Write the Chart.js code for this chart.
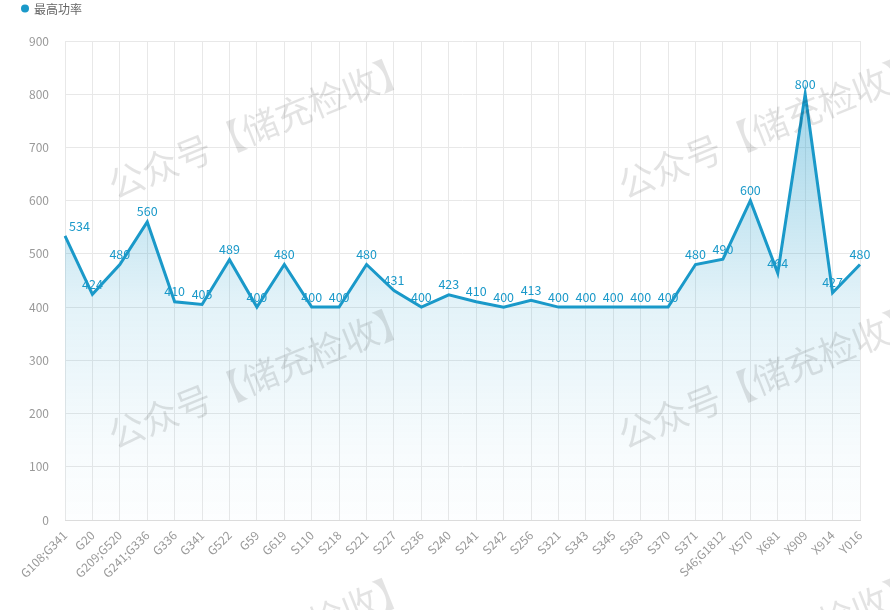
<!DOCTYPE html>
<html>
<head>
<meta charset="utf-8">
<script src="https://cdn.jsdelivr.net/npm/chart.js@4.4.1/dist/chart.umd.min.js"></script>
<style>
    body { margin: 0; background: #fff; }
    #wrap { width: 890px; height: 610px; position: relative; }
</style>
</head>
<body>
<div id="wrap"><canvas id="powerChart" width="890" height="610"></canvas></div>
<script>
// Data
const categories = ['G108;G341', 'G20', 'G209;G520', 'G241;G336', 'G336', 'G341', 'G522', 'G59', 'G619', 'S110',
    'S218', 'S221', 'S227', 'S236', 'S240', 'S241', 'S242', 'S256', 'S321', 'S343',
    'S345', 'S363', 'S370', 'S371', 'S46;G1812', 'X570', 'X681', 'X909', 'X914', 'Y016'];
const maxPower = [534, 424, 480, 560, 410, 405, 489, 400, 480, 400,
    400, 480, 431, 400, 423, 410, 400, 413, 400, 400,
    400, 400, 400, 480, 490, 600, 464, 800, 427, 480];
const yTicks = [0, 100, 200, 300, 400, 500, 600, 700, 800, 900];
const seriesName = '最高功率';
const watermark = '公众号【储充检收】';

const lineColor = '#1a99c9';
const fontFamily = '"Noto Sans CJK SC", "Noto Sans", sans-serif';

// simple legend in the top-left corner
const legendPlugin = {
    id: 'topLegend',
    afterDraw(chart) {
        const ctx = chart.ctx;
        ctx.save();
        ctx.fillStyle = lineColor;
        ctx.beginPath();
        ctx.arc(25, 8.5, 4, 0, Math.PI * 2);
        ctx.fill();
        ctx.font = '12px ' + fontFamily;
        ctx.fillStyle = '#666';
        ctx.textAlign = 'left';
        ctx.textBaseline = 'middle';
        ctx.fillText(seriesName, 34, 9);
        ctx.restore();
    }
};

// value labels above each point
const valueLabels = {
    id: 'valueLabels',
    beforeDatasetsDraw(chart) {
        const ctx = chart.ctx;
        const meta = chart.getDatasetMeta(0);
        ctx.save();
        ctx.font = '12.5px ' + fontFamily;
        ctx.fillStyle = lineColor;
        ctx.textBaseline = 'bottom';
        meta.data.forEach((pt, i) => {
            if (i === 0) {
                ctx.textAlign = 'left';
                ctx.fillText(maxPower[i], pt.x + 4, pt.y - 3);
            } else {
                ctx.textAlign = 'center';
                ctx.fillText(maxPower[i], pt.x, pt.y - 4);
            }
        });
        ctx.restore();
    }
};

// faint watermark text
const watermarkPlugin = {
    id: 'watermark',
    afterDraw(chart) {
        const ctx = chart.ctx;
        ctx.save();
        ctx.font = '36px ' + fontFamily;
        ctx.fillStyle = 'rgba(0, 0, 0, 0.11)';
        ctx.textAlign = 'center';
        ctx.textBaseline = 'middle';
        [[260, 126], [770, 126], [260, 376], [770, 376], [260, 645], [770, 645]].forEach(p => {
            ctx.save();
            ctx.translate(p[0], p[1]);
            ctx.rotate(-22 * Math.PI / 180);
            ctx.fillText(watermark, 0, 0);
            ctx.restore();
        });
        ctx.restore();
    }
};

function areaGradient(context) {
    const area = context.chart.chartArea;
    if (!area) return 'rgba(26,153,201,0.2)';
    const g = context.chart.ctx.createLinearGradient(0, area.top, 0, area.bottom);
    g.addColorStop(0, 'rgba(26, 153, 201, 0.45)');
    g.addColorStop(0.12, 'rgba(26, 153, 201, 0.40)');
    g.addColorStop(0.55, 'rgba(26, 153, 201, 0.12)');
    g.addColorStop(0.85, 'rgba(26, 153, 201, 0.035)');
    g.addColorStop(1, 'rgba(26, 153, 201, 0.01)');
    return g;
}

new Chart(document.getElementById('powerChart'), {
    type: 'line',
    data: {
        labels: categories,
        datasets: [{
            label: seriesName,
            data: maxPower,
            borderColor: lineColor,
            backgroundColor: areaGradient,
            borderWidth: 3,
            fill: 'origin',
            tension: 0,
            pointRadius: 0,
            pointHoverRadius: 0
        }]
    },
    options: {
        responsive: false,
        animation: false,
        layout: { padding: { left: 0, right: 30, top: 41, bottom: 0 } },
        plugins: {
            legend: { display: false },
            tooltip: { enabled: false }
        },
        scales: {
            y: {
                min: 0,
                max: 900,
                afterBuildTicks(scale) {
                    scale.ticks = yTicks.map(v => ({ value: v }));
                },
                afterFit(scale) { scale.width = 65; },
                border: { display: false },
                grid: { color: '#e8e8e8', drawTicks: false },
                ticks: {
                    color: '#999',
                    padding: 16,
                    font: { size: 12, family: fontFamily }
                }
            },
            x: {
                offset: false,
                afterFit(scale) { scale.height = 90; },
                border: { color: '#dcdcdc' },
                grid: { color: '#e8e8e8', offset: false, drawTicks: false },
                ticks: {
                    color: '#999',
                    autoSkip: false,
                    minRotation: 45,
                    maxRotation: 45,
                    padding: 8,
                    font: { size: 12, family: fontFamily }
                }
            }
        }
    },
    plugins: [valueLabels, watermarkPlugin, legendPlugin]
});
</script>
</body>
</html>
